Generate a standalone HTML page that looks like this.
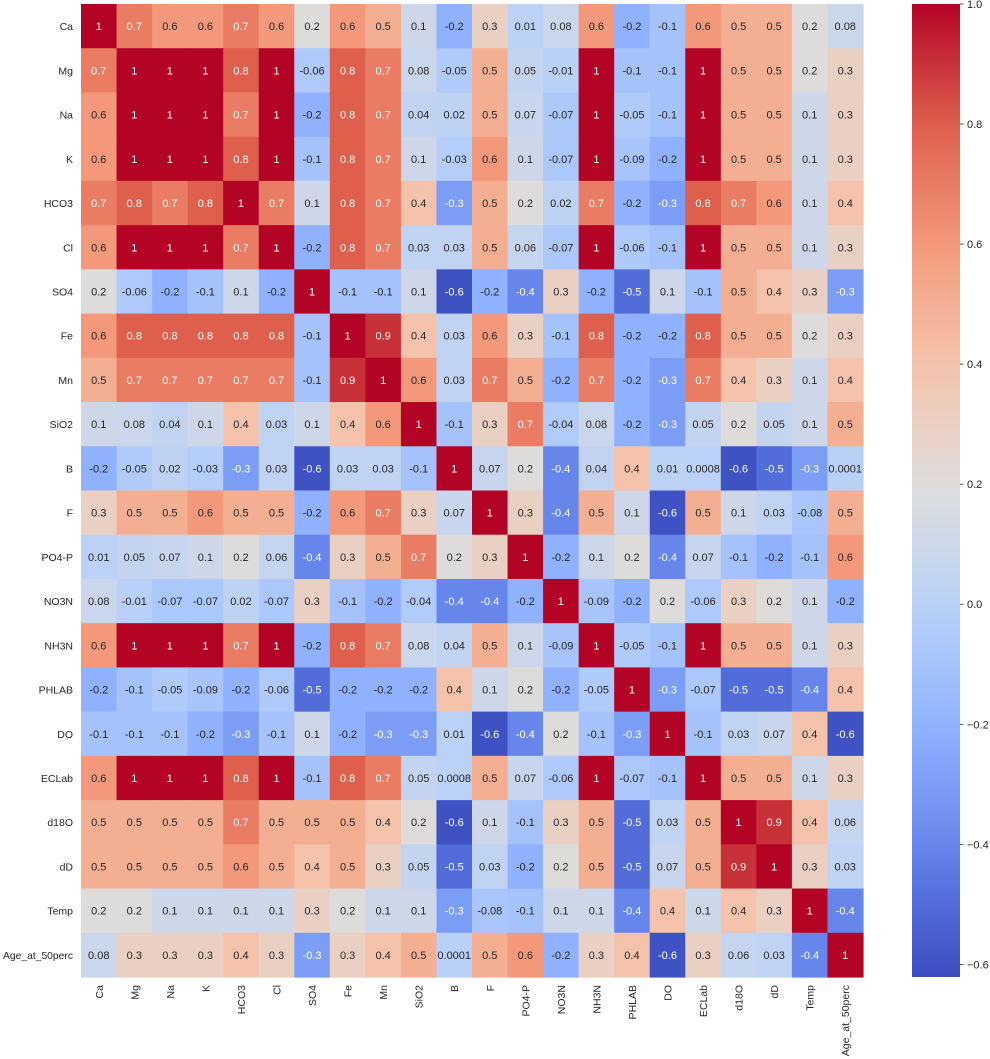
<!DOCTYPE html>
<html><head><meta charset="utf-8"><style>
html,body{margin:0;padding:0;background:#fff;width:990px;height:1059px;overflow:hidden}
svg text{font-family:"Liberation Sans","DejaVu Sans",sans-serif}
</style></head><body>
<svg id="chart" width="990" height="1059" xmlns="http://www.w3.org/2000/svg">
<defs><linearGradient id="cbgrad" x1="0" y1="1" x2="0" y2="0"></linearGradient></defs>
<g id="cells"></g>
<g id="ylabels"></g>
<g id="xlabels"></g>
<g id="cbar"></g>
</svg>
<script>
const labels = ["Ca","Mg","Na","K","HCO3","Cl","SO4","Fe","Mn","SiO2","B","F","PO4-P","NO3N","NH3N","PHLAB","DO","ECLab","d18O","dD","Temp","Age_at_50perc"];
const rowCa = [1,0.7,0.6,0.6,0.7,0.6,0.2,0.6,0.5,0.1,-0.2,0.3,0.01,0.08,0.6,-0.2,-0.1,0.6,0.5,0.5,0.2,0.08];
const rowMg = [0.7,1,1,1,0.8,1,-0.06,0.8,0.7,0.08,-0.05,0.5,0.05,-0.01,1,-0.1,-0.1,1,0.5,0.5,0.2,0.3];
const rowNa = [0.6,1,1,1,0.7,1,-0.2,0.8,0.7,0.04,0.02,0.5,0.07,-0.07,1,-0.05,-0.1,1,0.5,0.5,0.1,0.3];
const rowK = [0.6,1,1,1,0.8,1,-0.1,0.8,0.7,0.1,-0.03,0.6,0.1,-0.07,1,-0.09,-0.2,1,0.5,0.5,0.1,0.3];
const rowHCO3 = [0.7,0.8,0.7,0.8,1,0.7,0.1,0.8,0.7,0.4,-0.3,0.5,0.2,0.02,0.7,-0.2,-0.3,0.8,0.7,0.6,0.1,0.4];
const rowCl = [0.6,1,1,1,0.7,1,-0.2,0.8,0.7,0.03,0.03,0.5,0.06,-0.07,1,-0.06,-0.1,1,0.5,0.5,0.1,0.3];
const rowSO4 = [0.2,-0.06,-0.2,-0.1,0.1,-0.2,1,-0.1,-0.1,0.1,-0.6,-0.2,-0.4,0.3,-0.2,-0.5,0.1,-0.1,0.5,0.4,0.3,-0.3];
const rowFe = [0.6,0.8,0.8,0.8,0.8,0.8,-0.1,1,0.9,0.4,0.03,0.6,0.3,-0.1,0.8,-0.2,-0.2,0.8,0.5,0.5,0.2,0.3];
const rowMn = [0.5,0.7,0.7,0.7,0.7,0.7,-0.1,0.9,1,0.6,0.03,0.7,0.5,-0.2,0.7,-0.2,-0.3,0.7,0.4,0.3,0.1,0.4];
const rowSiO2 = [0.1,0.08,0.04,0.1,0.4,0.03,0.1,0.4,0.6,1,-0.1,0.3,0.7,-0.04,0.08,-0.2,-0.3,0.05,0.2,0.05,0.1,0.5];
const rowB = [-0.2,-0.05,0.02,-0.03,-0.3,0.03,-0.6,0.03,0.03,-0.1,1,0.07,0.2,-0.4,0.04,0.4,0.01,0.0008,-0.6,-0.5,-0.3,0.0001];
const rowF = [0.3,0.5,0.5,0.6,0.5,0.5,-0.2,0.6,0.7,0.3,0.07,1,0.3,-0.4,0.5,0.1,-0.6,0.5,0.1,0.03,-0.08,0.5];
const rowPO4 = [0.01,0.05,0.07,0.1,0.2,0.06,-0.4,0.3,0.5,0.7,0.2,0.3,1,-0.2,0.1,0.2,-0.4,0.07,-0.1,-0.2,-0.1,0.6];
const rowNO3N = [0.08,-0.01,-0.07,-0.07,0.02,-0.07,0.3,-0.1,-0.2,-0.04,-0.4,-0.4,-0.2,1,-0.09,-0.2,0.2,-0.06,0.3,0.2,0.1,-0.2];
const rowNH3N = [0.6,1,1,1,0.7,1,-0.2,0.8,0.7,0.08,0.04,0.5,0.1,-0.09,1,-0.05,-0.1,1,0.5,0.5,0.1,0.3];
const rowPHLAB = [-0.2,-0.1,-0.05,-0.09,-0.2,-0.06,-0.5,-0.2,-0.2,-0.2,0.4,0.1,0.2,-0.2,-0.05,1,-0.3,-0.07,-0.5,-0.5,-0.4,0.4];
const rowDO = [-0.1,-0.1,-0.1,-0.2,-0.3,-0.1,0.1,-0.2,-0.3,-0.3,0.01,-0.6,-0.4,0.2,-0.1,-0.3,1,-0.1,0.03,0.07,0.4,-0.6];
const rowECLab = [0.6,1,1,1,0.8,1,-0.1,0.8,0.7,0.05,0.0008,0.5,0.07,-0.06,1,-0.07,-0.1,1,0.5,0.5,0.1,0.3];
const rowd18O = [0.5,0.5,0.5,0.5,0.7,0.5,0.5,0.5,0.4,0.2,-0.6,0.1,-0.1,0.3,0.5,-0.5,0.03,0.5,1,0.9,0.4,0.06];
const rowdD = [0.5,0.5,0.5,0.5,0.6,0.5,0.4,0.5,0.3,0.05,-0.5,0.03,-0.2,0.2,0.5,-0.5,0.07,0.5,0.9,1,0.3,0.03];
const rowTemp = [0.2,0.2,0.1,0.1,0.1,0.1,0.3,0.2,0.1,0.1,-0.3,-0.08,-0.1,0.1,0.1,-0.4,0.4,0.1,0.4,0.3,1,-0.4];
const rowAge = [0.08,0.3,0.3,0.3,0.4,0.3,-0.3,0.3,0.4,0.5,0.0001,0.5,0.6,-0.2,0.3,0.4,-0.6,0.3,0.06,0.03,-0.4,1];
const matrix = [rowCa,rowMg,rowNa,rowK,rowHCO3,rowCl,rowSO4,rowFe,rowMn,rowSiO2,rowB,rowF,rowPO4,rowNO3N,rowNH3N,rowPHLAB,rowDO,rowECLab,rowd18O,rowdD,rowTemp,rowAge];
const cbTicks = [1.0,0.8,0.6,0.4,0.2,0.0,-0.2,-0.4,-0.6];
const vmin = -0.621, vmax = 1.0;

const NS = "http://www.w3.org/2000/svg";
const X0 = 81, X1 = 863, Y0 = 4, Y1 = 977;
const n = labels.length, cw = (X1-X0)/n, ch = (Y1-Y0)/n;
const xPos = i => X0 + i*cw;
const yPos = i => Y0 + i*ch;
const stops = [[59,76,192],[98,130,234],[141,176,254],[184,208,249],[221,221,221],[245,196,173],[244,154,123],[222,96,77],[180,4,38]];
function cmap(v){
  let t = (v - vmin)/(vmax - vmin); t = Math.max(0, Math.min(1, t));
  const p = t*(stops.length-1), i = Math.min(Math.floor(p), stops.length-2), f = p - i;
  return stops[i].map((c,k)=>Math.round(c + (stops[i+1][k]-c)*f));
}
function lum(rgb){
  const l = rgb.map(c=>{c/=255; return c<=0.03928? c/12.92 : Math.pow((c+0.055)/1.055,2.4);});
  return 0.2126*l[0]+0.7152*l[1]+0.0722*l[2];
}
function mk(tag, attrs, parent){
  const e = document.createElementNS(NS, tag);
  for (const k in attrs) e.setAttribute(k, attrs[k]);
  parent.appendChild(e); return e;
}
const gC = document.getElementById('cells');
for (let r=0;r<n;r++){
  for (let c=0;c<n;c++){
    const v = matrix[r][c], col = cmap(v);
    const rect = mk('rect',{x:xPos(c),y:yPos(r),width:cw+0.6,height:ch+0.6,fill:`rgb(${col})`},gC);
    
    
    const t = mk('text',{x:xPos(c)+cw/2,y:yPos(r)+ch/2+4,'text-anchor':'middle','font-size':'11',fill: lum(col)<0.408?'#ffffff':'#262626'},gC);
    
    
    t.textContent = String(Number(v.toPrecision(1)));
  }
}
const gY = document.getElementById('ylabels'), gX = document.getElementById('xlabels');
labels.forEach((l,i)=>{
  const ty = mk('text',{x:73,y:yPos(i)+ch/2+4,'text-anchor':'end','font-size':'10.5',fill:'#262626'},gY);
  
  
  ty.textContent = l;
  if (l.length > 10) { ty.setAttribute('textLength', '70'); ty.setAttribute('lengthAdjust', 'spacingAndGlyphs'); }
  const cx = xPos(i)+cw/2+4;
  const tx = mk('text',{x:cx,y:985,'text-anchor':'end','font-size':'10.5',fill:'#262626',transform:`rotate(-90 ${cx} 985)`},gX);
  
  
  tx.textContent = l;
});
const grad = document.getElementById('cbgrad');
for (let i=0;i<=20;i++){
  const t=i/20, col=cmap(vmin+t*(vmax-vmin));
  mk('stop',{offset:t,'stop-color':`rgb(${col})`},grad);
}
const gB = document.getElementById('cbar');
const CBX = 912, CBW = 48;
const cbY = v => Y1 - (v - vmin)/(vmax - vmin)*(Y1 - Y0);
const cbr = mk('rect',{x:CBX,y:Y0,width:CBW,height:Y1-Y0,fill:'url(#cbgrad)'},gB);


cbTicks.forEach(v=>{
  const y = cbY(v);
  mk('line',{x1:CBX+CBW,x2:CBX+CBW+3.5,y1:y,y2:y,stroke:'#262626','stroke-width':0.8},gB);
  const t = mk('text',{x:CBX+CBW+7,y:y+4,'font-size':'11',fill:'#262626'},gB);
  
  
  t.textContent = (v<0?'\u2212':'') + Math.abs(v).toFixed(1);
});
</script>
</body></html>
